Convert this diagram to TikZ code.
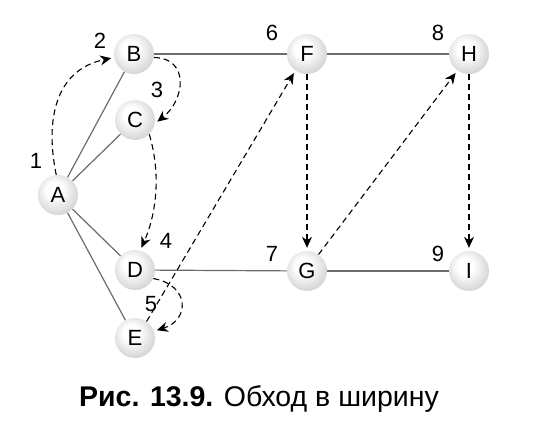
\documentclass[tikz,border=0pt]{standalone}
\usepackage{fontspec}
\setmainfont{Liberation Sans}
\usetikzlibrary{arrows.meta}
\pgfdeclareradialshading{vball}{\pgfpoint{-6bp}{8bp}}{color(0bp)=(white); color(10bp)=(white); color(30bp)=(black!18); color(46bp)=(black!47); color(50bp)=(black!57)}
\begin{document}
\begin{tikzpicture}[x=1pt,y=-1pt,
  vert/.style={circle,minimum size=40pt,inner sep=0pt,shading=vball,font=\fontsize{22}{22}\selectfont},
  num/.style={font=\fontsize{22}{22}\selectfont,inner sep=0pt},
  edge/.style={draw=black!58,line width=1.2pt},
  trav/.style={draw=black,line width=1.1pt,dash pattern=on 6pt off 4pt,shorten >=3pt,-{Stealth[length=11pt,width=10pt,inset=3.5pt]}}]
\useasboundingbox (0,0) rectangle (549,437);
\node[vert] (A) at (58,195) {A};
\node[vert] (B) at (134,54) {B};
\node[vert] (C) at (135,120) {C};
\node[vert] (D) at (135,270) {D};
\node[vert] (E) at (135,338) {E};
\node[vert] (F) at (307,54) {F};
\node[vert] (G) at (307,271) {G};
\node[vert] (H) at (469,54) {H};
\node[vert] (I) at (469,271) {I};
\node[num] (n1) at (36,161) {1};
\node[num] (n2) at (100,41) {2};
\node[num] (n3) at (157,90) {3};
\node[num] (n4) at (166,241) {4};
\node[num] (n5) at (151,304) {5};
\node[num] (n6) at (272,33) {6};
\node[num] (n7) at (272,254) {7};
\node[num] (n8) at (438,33) {8};
\node[num] (n9) at (438,254) {9};
\draw[edge] (A) -- (B);
\draw[edge] (A) -- (C);
\draw[edge] (A) -- (D);
\draw[edge] (A) -- (E);
\draw[edge] (B) -- (F);
\draw[edge] (F) -- (H);
\draw[edge] (D) -- (G);
\draw[edge] (G) -- (I);
\draw[trav] (A.95) .. controls (45,120) and (55,70) .. (B.190);
\draw[trav] (B.-10) .. controls (190,58) and (185,100) .. (C.-10);
\draw[trav] (C.-45) .. controls (160,170) and (158,210) .. (D.75);
\draw[trav] (D.-25) .. controls (190,285) and (190,320) .. (E.20);
\draw[trav] (E.55) -- (F.-125);
\draw[trav] (F) -- (G);
\draw[trav] (G.55) -- (H.-125);
\draw[trav] (H) -- (I);
\node[font=\fontsize{28.5}{28.5}\selectfont,anchor=base] (cap) at (259,406) {\textbf{Рис. 13.9.} Обход в ширину};
\end{tikzpicture}
\end{document}
